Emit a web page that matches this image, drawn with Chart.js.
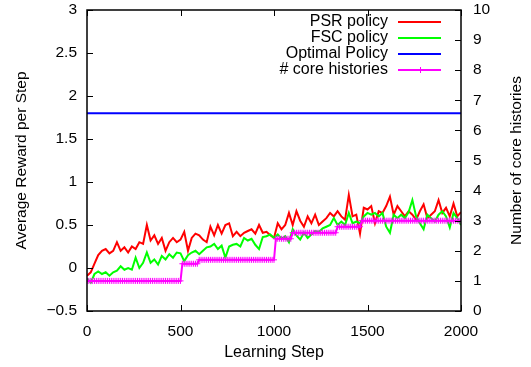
<!DOCTYPE html>
<html>
<head>
<meta charset="utf-8">
<script src="https://cdn.jsdelivr.net/npm/chart.js@4/dist/chart.umd.min.js"></script>
<style>
  html, body { margin: 0; padding: 0; background: #fff; }
</style>
</head>
<body>
<canvas id="myChart" width="531" height="367"></canvas>
<script>
"use strict";

// learning steps (x) for the reward curves
const steps20 = [
  0, 20, 40, 60, 80, 100, 120, 140, 160, 180,
  200, 220, 240, 260, 280, 300, 320, 340, 360, 380,
  400, 420, 440, 460, 480, 500, 520, 540, 560, 580,
  600, 620, 640, 660, 680, 700, 720, 740, 760, 780,
  800, 820, 840, 860, 880, 900, 920, 940, 960, 980,
  1000, 1020, 1040, 1060, 1080, 1100, 1120, 1140, 1160, 1180,
  1200, 1220, 1240, 1260, 1280, 1300, 1320, 1340, 1360, 1380,
  1400, 1420, 1440, 1460, 1480, 1500, 1520, 1540, 1560, 1580,
  1600, 1620, 1640, 1660, 1680, 1700, 1720, 1740, 1760, 1780,
  1800, 1820, 1840, 1860, 1880, 1900, 1920, 1940, 1960, 1980,
  2000
];

const psrReward = [
  -0.09, -0.05, 0.05, 0.15, 0.2, 0.22, 0.17, 0.2, 0.3, 0.2,
  0.24, 0.18, 0.25, 0.22, 0.3, 0.28, 0.5, 0.32, 0.38, 0.28,
  0.35, 0.2, 0.3, 0.35, 0.3, 0.33, 0.42, 0.2, 0.35, 0.4,
  0.38, 0.33, 0.3, 0.48, 0.38, 0.5, 0.4, 0.5, 0.52, 0.37,
  0.42, 0.37, 0.41, 0.43, 0.45, 0.4, 0.5, 0.41, 0.42, 0.38,
  0.35, 0.52, 0.45, 0.5, 0.64, 0.5, 0.66, 0.55, 0.48, 0.6,
  0.52, 0.62, 0.5, 0.54, 0.58, 0.64, 0.6, 0.66, 0.6, 0.56,
  0.85, 0.6, 0.62, 0.4, 0.7, 0.68, 0.72, 0.52, 0.66, 0.64,
  0.72, 0.83, 0.62, 0.72, 0.66, 0.6, 0.66, 0.62, 0.56, 0.66,
  0.74, 0.58, 0.62, 0.66, 0.79, 0.64, 0.7, 0.6, 0.75, 0.6,
  0.65
];

const fscReward = [
  -0.12, -0.17, -0.07, -0.04, -0.07, -0.05, -0.09, -0.05, -0.03, 0.02,
  -0.02, 0.0, -0.02, 0.12, 0.0, 0.06, 0.18, 0.06, 0.1, 0.04,
  0.14, 0.1, 0.16, 0.12, 0.18, 0.17, 0.08, 0.15, 0.18, 0.2,
  0.16, 0.2, 0.24, 0.25, 0.28, 0.22, 0.26, 0.12, 0.25, 0.27,
  0.28, 0.25, 0.35, 0.32, 0.34, 0.27, 0.22, 0.36, 0.37, 0.39,
  0.35, 0.39, 0.34, 0.37, 0.3, 0.45, 0.38, 0.33, 0.41, 0.35,
  0.39, 0.43, 0.42, 0.46, 0.48, 0.5, 0.58, 0.5, 0.54, 0.5,
  0.64, 0.52, 0.54, 0.52, 0.6, 0.64, 0.62, 0.64, 0.6, 0.64,
  0.48, 0.41, 0.62, 0.58, 0.62, 0.58, 0.65, 0.79, 0.6, 0.52,
  0.45, 0.62, 0.58, 0.54, 0.62, 0.66, 0.6, 0.47, 0.64, 0.58,
  0.5
];

const optimalSteps = [0, 2000];
const optimalReward = [1.8, 1.8];

// core histories are sampled every 10 steps
const steps10 = [
  0, 10, 20, 30, 40, 50, 60, 70, 80, 90,
  100, 110, 120, 130, 140, 150, 160, 170, 180, 190,
  200, 210, 220, 230, 240, 250, 260, 270, 280, 290,
  300, 310, 320, 330, 340, 350, 360, 370, 380, 390,
  400, 410, 420, 430, 440, 450, 460, 470, 480, 490,
  500, 510, 520, 530, 540, 550, 560, 570, 580, 590,
  600, 610, 620, 630, 640, 650, 660, 670, 680, 690,
  700, 710, 720, 730, 740, 750, 760, 770, 780, 790,
  800, 810, 820, 830, 840, 850, 860, 870, 880, 890,
  900, 910, 920, 930, 940, 950, 960, 970, 980, 990,
  1000, 1010, 1020, 1030, 1040, 1050, 1060, 1070, 1080, 1090,
  1100, 1110, 1120, 1130, 1140, 1150, 1160, 1170, 1180, 1190,
  1200, 1210, 1220, 1230, 1240, 1250, 1260, 1270, 1280, 1290,
  1300, 1310, 1320, 1330, 1340, 1350, 1360, 1370, 1380, 1390,
  1400, 1410, 1420, 1430, 1440, 1450, 1460, 1470, 1480, 1490,
  1500, 1510, 1520, 1530, 1540, 1550, 1560, 1570, 1580, 1590,
  1600, 1610, 1620, 1630, 1640, 1650, 1660, 1670, 1680, 1690,
  1700, 1710, 1720, 1730, 1740, 1750, 1760, 1770, 1780, 1790,
  1800, 1810, 1820, 1830, 1840, 1850, 1860, 1870, 1880, 1890,
  1900, 1910, 1920, 1930, 1940, 1950, 1960, 1970, 1980, 1990,
  2000
];

const coreHistories = [
  1, 1, 1, 1, 1, 1, 1, 1, 1, 1,
  1, 1, 1, 1, 1, 1, 1, 1, 1, 1,
  1, 1, 1, 1, 1, 1, 1, 1, 1, 1,
  1, 1, 1, 1, 1, 1, 1, 1, 1, 1,
  1, 1, 1, 1, 1, 1, 1, 1, 1, 1,
  1, 1.57, 1.57, 1.57, 1.57, 1.57, 1.57, 1.57, 1.57, 1.57,
  1.7, 1.7, 1.7, 1.7, 1.7, 1.7, 1.7, 1.7, 1.7, 1.7,
  1.7, 1.7, 1.7, 1.7, 1.7, 1.7, 1.7, 1.7, 1.7, 1.7,
  1.7, 1.7, 1.7, 1.7, 1.7, 1.7, 1.7, 1.7, 1.7, 1.7,
  1.7, 1.7, 1.7, 1.7, 1.7, 1.7, 1.7, 1.7, 1.7, 1.7,
  1.7, 2.4, 2.4, 2.4, 2.4, 2.4, 2.4, 2.4, 2.4, 2.4,
  2.6, 2.6, 2.6, 2.6, 2.6, 2.6, 2.6, 2.6, 2.6, 2.6,
  2.6, 2.6, 2.6, 2.6, 2.6, 2.6, 2.6, 2.6, 2.6, 2.6,
  2.6, 2.6, 2.6, 2.6, 2.8, 2.8, 2.8, 2.8, 2.8, 2.8,
  2.8, 2.8, 2.8, 2.8, 2.8, 2.8, 2.8, 3, 3, 3,
  3, 3, 3, 3, 3, 3, 3, 3, 3, 3,
  3, 3, 3, 3, 3, 3, 3, 3, 3, 3,
  3, 3, 3, 3, 3, 3, 3, 3, 3, 3,
  3, 3, 3, 3, 3, 3, 3, 3, 3, 3,
  3, 3, 3, 3, 3, 3, 3, 3, 3, 3,
  3
];

const FONT = '"Liberation Sans", Arial, Helvetica, sans-serif';
const TEXT = '#000';

function xy(xs, ys) {
  return xs.map((x, i) => ({x: x, y: ys[i]}));
}

// fixed box sizes so the plot frame sits where gnuplot put it
function fixBox(size) {
  return s => {
    if (s.isHorizontal()) { s.height = size; } else { s.width = size; }
    s.paddingTop = 0; s.paddingBottom = 0;
    s.paddingLeft = 0; s.paddingRight = 0;
  };
}

// gnuplot look: frame, inward ticks, right title read upwards, plain legend
const gnuplotLook = {
  id: 'gnuplotLook',
  afterDraw(chart) {
    const ctx = chart.ctx;
    const area = chart.chartArea;
    const {x, y, y2} = chart.scales;
    ctx.save();
    ctx.strokeStyle = '#000';
    ctx.lineWidth = 1.5;
    ctx.strokeRect(area.left, area.top, area.right - area.left, area.bottom - area.top);

    ctx.lineWidth = 1;
    ctx.beginPath();
    x.ticks.forEach(t => {
      const px = Math.round(x.getPixelForValue(t.value)) + 0.5;
      ctx.moveTo(px, area.bottom); ctx.lineTo(px, area.bottom - 6);
      ctx.moveTo(px, area.top); ctx.lineTo(px, area.top + 6);
    });
    y.ticks.forEach(t => {
      const py = Math.round(y.getPixelForValue(t.value)) + 0.5;
      ctx.moveTo(area.left, py); ctx.lineTo(area.left + 6, py);
    });
    y2.ticks.forEach(t => {
      const py = Math.round(y2.getPixelForValue(t.value)) + 0.5;
      ctx.moveTo(area.right, py); ctx.lineTo(area.right - 6, py);
    });
    ctx.stroke();

    // right axis title
    ctx.fillStyle = TEXT;
    ctx.font = '15.5px ' + FONT;
    ctx.textAlign = 'center';
    ctx.textBaseline = 'middle';
    ctx.translate(517, (area.top + area.bottom) / 2);
    ctx.rotate(-Math.PI / 2);
    ctx.fillText('Number of core histories', 0, 0);
    ctx.setTransform(1, 0, 0, 1, 0, 0);

    // legend
    ctx.font = '16px ' + FONT;
    ctx.textAlign = 'right';
    chart.data.datasets.forEach((ds, i) => {
      const ly = 22 + i * 16;
      ctx.fillStyle = TEXT;
      ctx.fillText(ds.label, 388, ly);
      ctx.strokeStyle = ds.borderColor;
      ctx.lineWidth = 2;
      ctx.beginPath();
      ctx.moveTo(398, ly); ctx.lineTo(441, ly);
      ctx.stroke();
      if (ds.pointStyle === 'cross') {
        ctx.lineWidth = 1;
        ctx.beginPath();
        ctx.moveTo(420.5, ly - 3); ctx.lineTo(420.5, ly + 3);
        ctx.stroke();
      }
    });
    ctx.restore();
  }
};

const ctx = document.getElementById('myChart').getContext('2d');
const chart = new Chart(ctx, {
  type: 'line',
  data: {
    datasets: [
      {
        label: 'PSR policy',
        data: xy(steps20, psrReward),
        borderColor: '#ff0000',
        borderWidth: 2,
        pointRadius: 0,
        yAxisID: 'y',
        order: 3
      },
      {
        label: 'FSC policy',
        data: xy(steps20, fscReward),
        borderColor: '#00ff00',
        borderWidth: 2,
        pointRadius: 0,
        yAxisID: 'y',
        order: 2
      },
      {
        label: 'Optimal Policy',
        data: xy(optimalSteps, optimalReward),
        borderColor: '#0000ff',
        borderWidth: 2,
        pointRadius: 0,
        yAxisID: 'y',
        order: 1
      },
      {
        label: '# core histories',
        data: xy(steps10, coreHistories),
        borderColor: '#ff00ff',
        backgroundColor: '#ff00ff',
        borderWidth: 2,
        pointStyle: 'cross',
        pointRadius: 3,
        pointBorderWidth: 1,
        pointBorderColor: '#ff00ff',
        yAxisID: 'y2',
        order: 0
      }
    ]
  },
  options: {
    responsive: false,
    animation: false,
    layout: {padding: {top: 10, left: 0, right: 0, bottom: 0}},
    plugins: {legend: {display: false}, tooltip: {enabled: false}},
    scales: {
      x: {
        type: 'linear',
        min: 0,
        max: 2000,
        grid: {display: false, drawTicks: false},
        border: {display: false},
        ticks: {
          stepSize: 500,
          color: TEXT,
          padding: 11,
          maxRotation: 0,
          font: {family: FONT, size: 15.5},
          callback: v => String(v)
        },
        title: {
          display: true,
          text: 'Learning Step',
          color: TEXT,
          font: {family: FONT, size: 16},
          padding: {top: 0, bottom: 5}
        },
        afterFit: fixBox(56)
      },
      y: {
        position: 'left',
        min: -0.5,
        max: 3,
        grid: {display: false, drawTicks: false},
        border: {display: false},
        ticks: {
          stepSize: 0.5,
          color: TEXT,
          padding: 10,
          font: {family: FONT, size: 15.5},
          callback: v => String(v).replace('-', '\u2212')
        },
        title: {
          display: true,
          text: 'Average Reward per Step',
          color: TEXT,
          font: {family: FONT, size: 15.5},
          padding: {top: 12, bottom: 0}
        },
        afterFit: fixBox(87)
      },
      y2: {
        position: 'right',
        min: 0,
        max: 10,
        grid: {display: false, drawTicks: false},
        border: {display: false},
        ticks: {
          stepSize: 1,
          color: TEXT,
          padding: 12,
          font: {family: FONT, size: 15.5}
        },
        afterFit: fixBox(70)
      }
    }
  },
  plugins: [gnuplotLook]
});
</script>
</body>
</html>
